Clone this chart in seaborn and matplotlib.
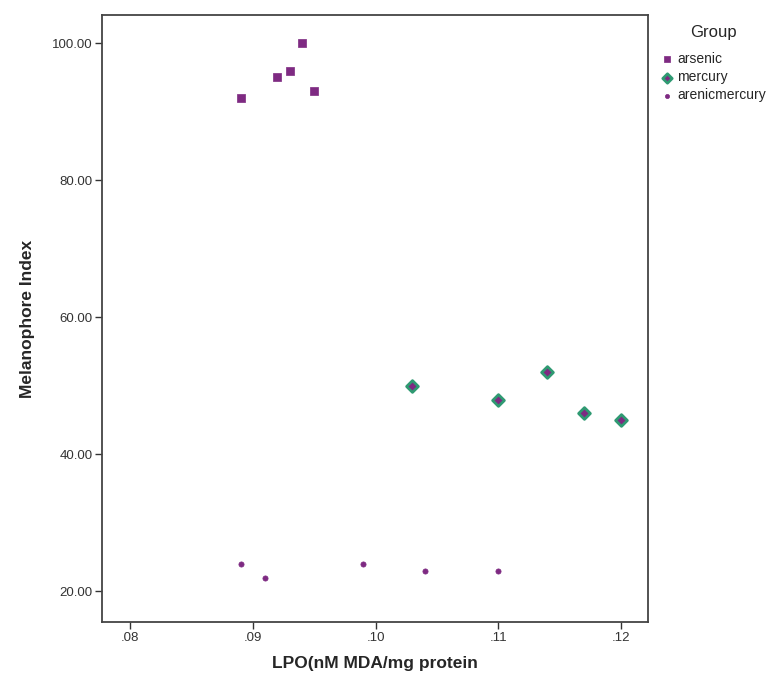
import matplotlib
matplotlib.use("Agg")
import matplotlib.pyplot as plt
import seaborn as sns
import pandas as pd

# data
arsenic_x = [0.089, 0.092, 0.093, 0.094, 0.095]
arsenic_y = [92, 95, 96, 100, 93]
mercury_x = [0.103, 0.110, 0.114, 0.117, 0.120]
mercury_y = [50, 48, 52, 46, 45]
arenicmercury_x = [0.089, 0.091, 0.099, 0.104, 0.110]
arenicmercury_y = [24, 22, 24, 23, 23]

groups = ["arsenic", "mercury", "arenicmercury"]

df = pd.DataFrame({
    "LPO": arsenic_x + mercury_x + arenicmercury_x,
    "MI": arsenic_y + mercury_y + arenicmercury_y,
    "Group": ["arsenic"] * 5 + ["mercury"] * 5 + ["arenicmercury"] * 5,
})

sns.set_style("white")
plt.rcParams['font.family'] = ['Liberation Sans', 'DejaVu Sans']

fig = plt.figure(figsize=(7.73, 6.86), dpi=100)
ax = fig.add_axes([0.132, 0.093, 0.706, 0.885])

purple = "#7e2a82"
styles = {
    "arsenic": dict(marker="s", s=34, edgecolor=purple, linewidth=0.5),
    "mercury": dict(marker="D", s=36, edgecolor="#2f9a72", linewidth=2.0),
    "arenicmercury": dict(marker="o", s=14, edgecolor=purple, linewidth=0.5),
}

for g in groups:
    sub = df[df["Group"] == g]
    sns.scatterplot(x="LPO", y="MI", data=sub, color=purple, label=g, ax=ax, **styles[g])

ax.set_xlim(0.0777, 0.1222)
ax.set_ylim(15.5, 104.1)
ax.set_xticks([0.08, 0.09, 0.10, 0.11, 0.12])
ax.set_xticklabels([".08", ".09", ".10", ".11", ".12"])
ax.set_yticks([20, 40, 60, 80, 100])
ax.set_yticklabels(["20.00", "40.00", "60.00", "80.00", "100.00"])
ax.tick_params(axis="both", labelsize=9.5, colors="#333333", length=5, width=1,
               direction="out", bottom=True, left=True, pad=2)

for sp in ax.spines.values():
    sp.set_color("#444444")
    sp.set_linewidth(1.3)

ax.set_xlabel("LPO(nM MDA/mg protein", fontsize=12.5, fontweight="bold", labelpad=9)
ax.set_ylabel("Melanophore Index", fontsize=12.5, fontweight="bold", labelpad=12)

leg = ax.legend(title="Group", loc="upper left", bbox_to_anchor=(1.0, 1.005),
                frameon=False, fontsize=10, title_fontsize=12,
                handletextpad=0.2, labelspacing=0.3, markerscale=0.8,
                handlelength=1.0)
leg._legend_box.align = "center"
leg._legend_box.sep = 9

fig.savefig("out.png", dpi=100, facecolor="white")
